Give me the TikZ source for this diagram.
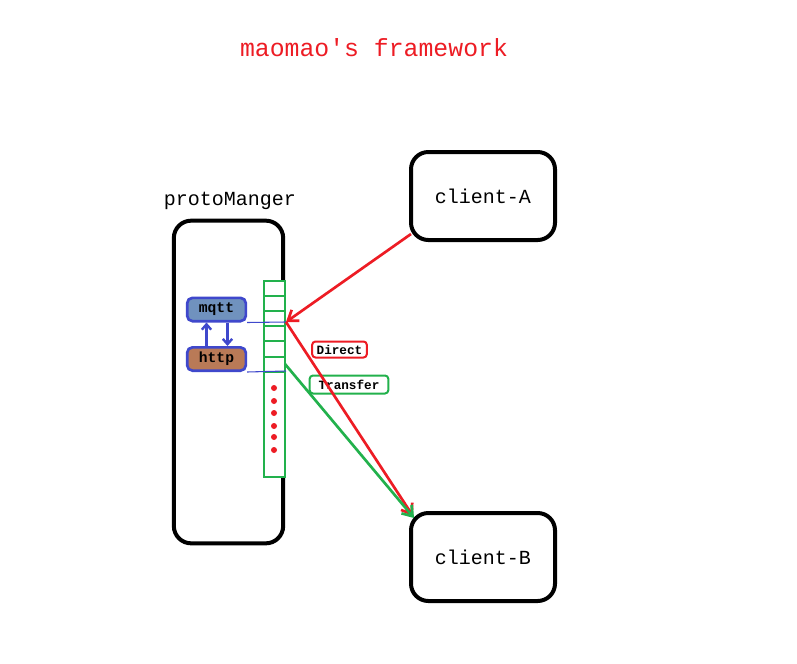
\documentclass[tikz,border=0pt]{standalone}
\usepackage{fontspec}
\newfontfamily\mono{Liberation Mono}
\usetikzlibrary{arrows.meta}
\definecolor{pred}{HTML}{ED1C24}
\definecolor{pgreen}{HTML}{22B14C}
\definecolor{pblue}{HTML}{3F48CC}
\definecolor{psteel}{HTML}{7092BE}
\definecolor{pbrown}{HTML}{B97A57}
\begin{document}
\begin{tikzpicture}[x=0.75pt,y=-0.75pt,
  bigbox/.style={draw=black,line width=3pt,rounded corners=13pt,fill=white,inner sep=0pt},
  proto/.style={draw=pblue,line width=2pt,rounded corners=4pt,minimum width=44pt,minimum height=17.5pt,inner sep=0pt,font=\mono\bfseries\fontsize{11}{12}\selectfont},
  tag/.style={line width=1.5pt,rounded corners=2.5pt,fill=white,inner sep=0pt,font=\mono\bfseries\fontsize{9.5}{10}\selectfont},
  cell/.style={draw=pgreen,line width=2pt},
  dot/.style={circle,fill=pred,inner sep=0pt,minimum size=4.5pt},
  redarrow/.style={draw=pred,line width=2pt,-{Straight Barb[length=7pt,width=10pt,line width=2pt]}},
  greenarrow/.style={draw=pgreen,line width=2pt,-{Straight Barb[length=7pt,width=10pt,line width=2pt]}},
  updown/.style={draw=pblue,line width=2.2pt,-{Straight Barb[length=4pt,width=7pt,line width=1.8pt]}}
]
\useasboundingbox (0,0) rectangle (797,664);
\fill[white] (0,0) rectangle (797,664);

% title
\node[text=pred,font=\mono\fontsize{18.6}{20}\selectfont] (title) at (374,48) {maomao's framework};

% protoManger
\node[font=\mono\fontsize{15}{16}\selectfont] (protolabel) at (230,201) {protoManger};
\node[bigbox,minimum width=82pt,minimum height=242pt] (proto) at (228.5,382) {};

% clients
\node[bigbox,minimum width=108pt,minimum height=66pt,font=\mono\fontsize{15}{16}\selectfont] (clientA) at (483,196) {client-A};
\node[bigbox,minimum width=108pt,minimum height=66pt,font=\mono\fontsize{15}{16}\selectfont] (clientB) at (483,557) {client-B};

% green column
\fill[white] (264,281) rectangle (285,477);
\draw[cell] (264,281) rectangle (285,477);
\foreach \yy in {296,311,326,341,357,372} \draw[cell] (264,\yy) -- (285,\yy);
\foreach \yy [count=\i] in {388,401,413,426,437,450} \node[dot] (dot\i) at (274,\yy) {};

% protocols
\node[proto,fill=psteel] (mqtt) at (216.5,309.5) {mqtt};
\node[proto,fill=pbrown] (http) at (216.5,359) {http};
\draw[updown] ([xshift=-7.5pt]http.north) -- ([xshift=-7.5pt]mqtt.south);
\draw[updown] ([xshift=8.25pt]mqtt.south) -- ([xshift=8.25pt]http.north);

\coordinate (port1) at (286,322);
\coordinate (port2) at (285,364);
\coordinate (aout) at (411,234);
\coordinate (bin) at (413,516);
\coordinate (bin2) at (414,518);

\draw[pblue,line width=0.8pt] (mqtt.south east) -- (286,322);
\draw[pblue,line width=0.8pt] (http.south east) -- (286,371);

% labels
\node[tag,draw=pred,minimum width=41pt,minimum height=12pt] (direct) at (339.5,349.5) {Direct};
\node[tag,draw=pgreen,minimum width=59pt,minimum height=13.5pt] (transfer) at (349,384.5) {Transfer};

% arrows
\draw[redarrow] (aout) -- (port1);
\draw[redarrow] (port1) -- (bin);
\draw[greenarrow] (port2) -- (bin2);
\end{tikzpicture}
\end{document}
